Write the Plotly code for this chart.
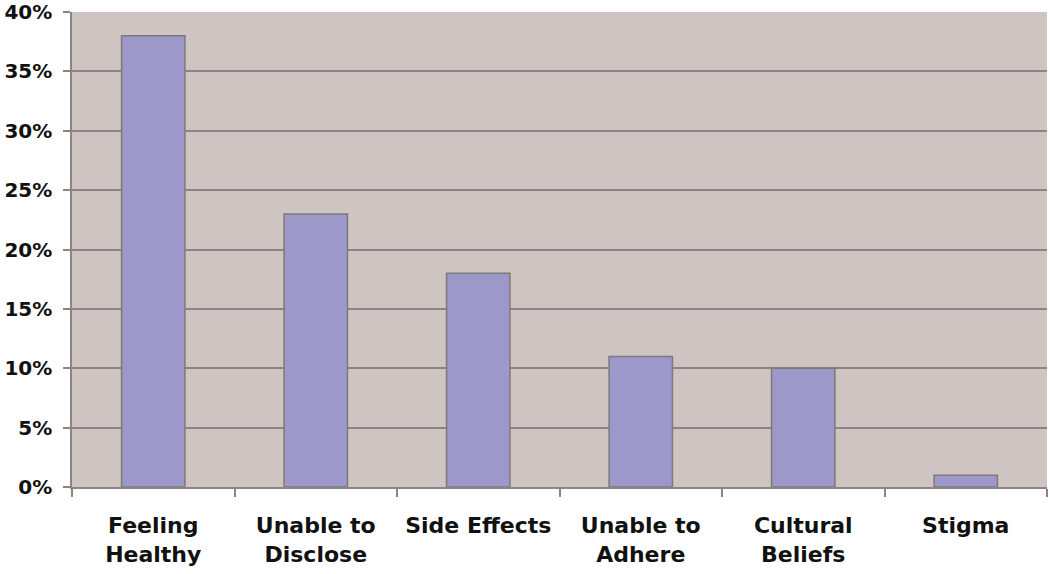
import plotly.graph_objects as go

categories = ["Feeling<br>Healthy", "Unable to<br>Disclose", "Side Effects", "Unable to<br>Adhere", "Cultural<br>Beliefs", "Stigma"]
values = [38, 23, 18, 11, 10, 1]
y_ticks = [0, 5, 10, 15, 20, 25, 30, 35, 40]
y_tick_labels = [f"{v}%" for v in y_ticks]

FONT = "DejaVu Sans, Liberation Sans, Arial, sans-serif"

fig = go.Figure(go.Bar(
    x=categories, y=values,
    marker=dict(color="#9C98CA", line=dict(color="#807878", width=1.5)),
    width=0.39,
))

fig.update_layout(
    width=1050, height=574,
    margin=dict(l=72, r=3, t=12, b=87, autoexpand=False),
    paper_bgcolor="white",
    plot_bgcolor="#CEC4C2",
    showlegend=False,
    font=dict(family=FONT, color="#111111"),
)
fig.update_xaxes(
    automargin=False,
    showline=True, linecolor="#8C8484", linewidth=1.5,
    ticks="outside", tickson="boundaries", ticklen=8, tickcolor="#8C8484", tickwidth=1.5,
    tickfont=dict(size=22, family=FONT, weight="bold", color="#111111"),
    ticklabelstandoff=18,
    showgrid=False,
)
fig.update_yaxes(
    automargin=False,
    range=[0, 40], tickvals=y_ticks, ticktext=y_tick_labels,
    showline=True, linecolor="#8C8484", linewidth=1.5,
    ticks="outside", ticklen=7, tickcolor="#8C8484", tickwidth=1.5,
    tickfont=dict(size=20, family=FONT, weight="bold", color="#111111"),
    ticklabelstandoff=7, ticklabeloverflow="allow",
    showgrid=True, gridcolor="#8C8484", gridwidth=1.5,
    zeroline=False,
)

fig.write_html("out.html", config={"displayModeBar": False},
               post_script="document.body.style.margin='0';")
